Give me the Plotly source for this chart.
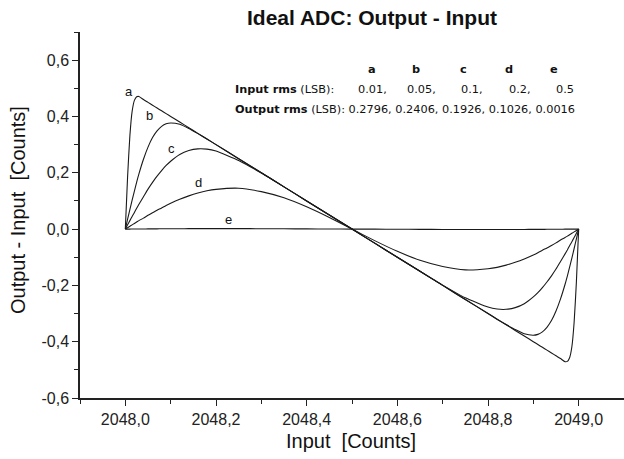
import plotly.graph_objects as go

# ---------------- data ----------------
x_in = [2048.000, 2048.005, 2048.010, 2048.015, 2048.020, 2048.025, 2048.030, 2048.040,
        2048.050, 2048.060, 2048.070, 2048.080, 2048.090, 2048.100, 2048.120, 2048.140,
        2048.160, 2048.180, 2048.200, 2048.250, 2048.300, 2048.350, 2048.400, 2048.450,
        2048.500,
        2048.550, 2048.600, 2048.650, 2048.700, 2048.750, 2048.800, 2048.820, 2048.840,
        2048.860, 2048.880, 2048.900, 2048.910, 2048.920, 2048.930, 2048.940, 2048.950,
        2048.960, 2048.970, 2048.975, 2048.980, 2048.985, 2048.990, 2048.995, 2049.000]

curve_a = [0, .187, .331, .418, .457, .470, .471, .460, .450, .440, .430, .420, .410, .400,
           .380, .360, .340, .320, .300, .250, .200, .150, .100, .050, 0,
           -.050, -.100, -.150, -.200, -.250, -.300, -.320, -.340, -.360, -.380, -.400, -.410,
           -.420, -.430, -.440, -.450, -.460, -.471, -.470, -.457, -.418, -.331, -.187, 0]

curve_b = [0, .035, .069, .103, .135, .167, .196, .248, .291, .325, .349, .365, .374, .377,
           .372, .357, .339, .320, .300, .250, .200, .150, .100, .050, 0,
           -.050, -.100, -.150, -.200, -.250, -.300, -.320, -.339, -.357, -.372, -.377, -.374,
           -.365, -.349, -.325, -.291, -.248, -.196, -.167, -.135, -.103, -.069, -.035, 0]

curve_c = [0, .015, .030, .045, .059, .074, .088, .115, .142, .166, .188, .208, .226, .241,
           .265, .279, .285, .284, .277, .244, .199, .150, .100, .050, 0,
           -.050, -.100, -.150, -.199, -.244, -.277, -.284, -.285, -.279, -.265, -.241, -.226,
           -.208, -.188, -.166, -.142, -.115, -.088, -.074, -.059, -.045, -.030, -.015, 0]

curve_d = [0, .005, .010, .015, .020, .025, .030, .039, .049, .058, .067, .075, .084, .092,
           .106, .118, .128, .136, .141, .145, .133, .111, .079, .041, 0,
           -.041, -.079, -.111, -.133, -.145, -.141, -.136, -.128, -.118, -.106, -.092, -.084,
           -.075, -.067, -.058, -.049, -.039, -.030, -.025, -.020, -.015, -.010, -.005, 0]

curve_e = [0, 0, 0, .0001, .0002, .0002, .0003, .0004, .0006, .0007, .0008, .0010, .0011, .0012,
           .0013, .0015, .0016, .0016, .0016, .0016, .0013, .0010, .0006, .0003, 0,
           -.0003, -.0006, -.0010, -.0013, -.0016, -.0016, -.0016, -.0016, -.0015, -.0013, -.0012, -.0011,
           -.0010, -.0008, -.0007, -.0006, -.0004, -.0003, -.0002, -.0002, -.0001, 0, 0, 0]

series_names = ["a", "b", "c", "d", "e"]
label_x = [2048.007, 2048.053, 2048.101, 2048.161, 2048.227]
label_y = [0.488, 0.404, 0.287, 0.166, 0.035]

input_rms = ["0.01,", "0.05,", "0.1,", "0.2,", "0.5"]
output_rms = ["0.2796,", "0.2406,", "0.1926,", "0.1026,", "0.0016"]

x_tickvals = [2048.0, 2048.2, 2048.4, 2048.6, 2048.8, 2049.0]
x_ticktext = ["2048,0", "2048,2", "2048,4", "2048,6", "2048,8", "2049,0"]
y_tickvals = [-0.6, -0.4, -0.2, 0.0, 0.2, 0.4, 0.6]
y_ticktext = ["-0,6", "-0,4", "-0,2", "0,0", "0,2", "0,4", "0,6"]

# ---------------- figure ----------------
FONT = "Liberation Sans, Arial, sans-serif"
TFONT = "DejaVu Sans, sans-serif"
fig = go.Figure()
for name, ys in zip(series_names, [curve_a, curve_b, curve_c, curve_d, curve_e]):
    fig.add_trace(go.Scatter(x=x_in, y=ys, mode="lines", name=name,
                             line=dict(color="#1a1a1a", width=1.1, shape="spline", smoothing=0.5),
                             showlegend=False, hoverinfo="skip"))

ann = []
for n, lx, ly in zip(series_names, label_x, label_y):
    ann.append(dict(x=lx, y=ly, xref="x", yref="y", text=n, showarrow=False,
                    font=dict(family=FONT, size=13, color="#111")))

W, H = 624, 459
L, R, T, B = 80, 0, 32, 61
pw, ph = W - L - R, H - T - B


def px(xp):
    return (xp - L) / pw


def py(yp):
    return (H - B - yp) / ph


tfont = dict(family=TFONT, size=11.3, color="#111")
col_x = [372, 416, 463, 509, 554]
for i, n in enumerate(series_names):
    ann.append(dict(x=px(col_x[i]), y=py(69), xref="paper", yref="paper", text="<b>" + n + "</b>",
                    showarrow=False, xanchor="center", yanchor="middle", font=tfont))
ann.append(dict(x=px(233), y=py(90), xref="paper", yref="paper",
                text="<b>Input rms</b> (LSB):", showarrow=False, xanchor="left", yanchor="middle",
                font=tfont))
in_x = [372, 421, 472, 520, 565]
for i, v in enumerate(input_rms):
    ann.append(dict(x=px(in_x[i]), y=py(90), xref="paper", yref="paper", text=v,
                    showarrow=False, xanchor="center", yanchor="middle", font=tfont))
ann.append(dict(x=px(233), y=py(109), xref="paper", yref="paper",
                text="<b>Output rms</b> (LSB): " + " ".join(output_rms),
                showarrow=False, xanchor="left", yanchor="middle", font=tfont))

# axis titles
ann.append(dict(x=px(351), y=py(441), xref="paper", yref="paper", text="Input  [Counts]",
                showarrow=False, xanchor="center", yanchor="middle",
                font=dict(family=FONT, size=20, color="#111")))
ann.append(dict(x=px(18), y=py(210), xref="paper", yref="paper", text="Output - Input  [Counts]",
                showarrow=False, xanchor="center", yanchor="middle", textangle=-90,
                font=dict(family=FONT, size=20, color="#111")))

fig.update_layout(
    width=W, height=H,
    margin=dict(l=L, r=R, t=T, b=B, pad=0),
    paper_bgcolor="white", plot_bgcolor="white",
    title=dict(text="<b>Ideal ADC: Output - Input</b>", x=372 / W, xanchor="center",
               y=1 - 18 / H, yanchor="middle",
               font=dict(family=FONT, size=21, color="#111")),
    annotations=ann,
    showlegend=False,
)
fig.update_xaxes(range=[2047.9, 2049.1], tickvals=x_tickvals, ticktext=x_ticktext,
                 showgrid=False, zeroline=False, showline=True, linecolor="#222", linewidth=1.5,
                 ticks="outside", ticklen=6, tickwidth=1.3, tickcolor="#222",
                 minor=dict(tickvals=[2047.9, 2048.1, 2048.3, 2048.5, 2048.7, 2048.9, 2049.1],
                            ticks="outside", ticklen=4, tickwidth=1.2, tickcolor="#222"),
                 tickfont=dict(family=FONT, size=16, color="#222"))
fig.update_yaxes(range=[-0.6, 0.7], tickvals=y_tickvals, ticktext=y_ticktext,
                 showgrid=False, zeroline=False, showline=True, linecolor="#222", linewidth=1.5,
                 ticks="outside", ticklen=6, tickwidth=1.3, tickcolor="#222",
                 minor=dict(tickvals=[-0.5, -0.3, -0.1, 0.1, 0.3, 0.5, 0.7],
                            ticks="outside", ticklen=4, tickwidth=1.2, tickcolor="#222"),
                 tickfont=dict(family=FONT, size=16, color="#222"))

fig.write_html("out.html")
